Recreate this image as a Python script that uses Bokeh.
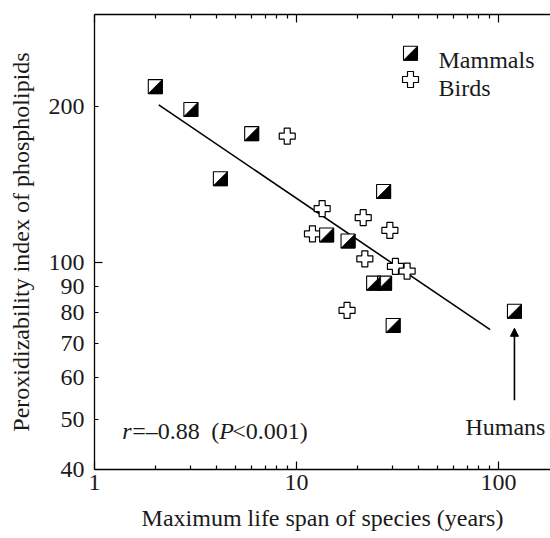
import math
from bokeh.plotting import figure
from bokeh.models import LogAxis, FixedTicker, BasicTickFormatter, Arrow, NormalHead
from bokeh.core.properties import value
from bokeh.embed import file_html
from bokeh.resources import INLINE

# ---- data ----
mammal_span = [2.0, 3.0, 6.0, 4.2, 27.0, 14.1, 18.0, 24.1, 27.3, 30.1, 120.0]
mammal_pi = [218, 197, 177, 145, 137, 113, 110, 91.3, 91.3, 75.7, 80.6]
bird_span = [9.0, 13.4, 21.4, 12.0, 29.0, 21.8, 30.9, 35.3, 17.8]
bird_pi = [175, 127, 122, 113.6, 115.3, 101.7, 98.3, 96.3, 80.9]
fit_span = [2.08, 91.0]
fit_pi = [201, 74.3]
humans_span = 120.0
humans_pi = 80.6

x_ticks = [1, 10, 100]
x_tick_labels = ["1", "10", "100"]
x_minor = [m * 10 ** e for e in (0, 1) for m in range(2, 10)]
y_ticks = [40, 50, 60, 70, 80, 90, 100, 200]
y_tick_labels = ["40", "50", "60", "70", "80", "90", "100", "200"]

stats_parts = ["r", "=\u20130.88", "(", "P", "<0.001)"]
stats_italic = [True, False, False, True, False]
stats_dx = [0, 10, 89, 97, 110]

x0, x1 = 1, 181
y0, y1 = 40, 300

FONT = "Liberation Serif"
FS = "24px"
TXT = "#1a1a1a"

W, H = 550, 538
BL, BR, BT, BB = 94, 0, 14, 69
FW, FH = W - BL - BR, H - BT - BB
ppd_x = FW / (math.log10(x1) - math.log10(x0))
ppd_y = FH / (math.log10(y1) - math.log10(y0))

def fx(px):  # pixels from frame left -> data x
    return 10 ** (math.log10(x0) + px / ppd_x)

def fy(py):  # pixels from frame top -> data y
    return 10 ** (math.log10(y1) - py / ppd_y)

def sx(v, px):
    return v * 10 ** (px / ppd_x)

def sy(v, py):
    return v * 10 ** (py / ppd_y)

p = figure(width=W, height=H, x_axis_type="log", y_axis_type="log",
           x_range=(x0, x1), y_range=(y0, y1),
           output_backend="svg", toolbar_location=None,
           min_border_left=BL, min_border_right=BR,
           min_border_top=BT, min_border_bottom=BB)
p.outline_line_color = None
p.xgrid.visible = False
p.ygrid.visible = False
p.background_fill_color = "white"
p.border_fill_color = "white"

# bottom axis
xa = p.xaxis[0]
xa.ticker = FixedTicker(ticks=x_ticks, minor_ticks=x_minor)
xa.formatter = BasicTickFormatter(use_scientific=False)
xa.major_label_overrides = {float(t): l for t, l in zip(x_ticks, x_tick_labels)}
xa.axis_label = "Maximum life span of species (years)"
xa.major_tick_in = 8
xa.major_tick_out = 0
xa.minor_tick_in = 4
xa.minor_tick_out = 0
xa.major_label_standoff = 5
xa.axis_label_standoff = 12

# left axis (the 100 tick is drawn longer, as in the original)
ya = p.yaxis[0]
ya.ticker = FixedTicker(ticks=y_ticks, minor_ticks=[y_ticks[6]])
ya.formatter = BasicTickFormatter(use_scientific=False)
ya.major_label_overrides = {float(t): l for t, l in zip(y_ticks, y_tick_labels)}
ya.axis_label = "Peroxidizability index of phospholipids"
ya.major_tick_in = 4
ya.major_tick_out = 0
ya.minor_tick_in = 8
ya.minor_tick_out = 0
ya.major_label_standoff = 10
ya.axis_label_standoff = 12

for ax in (xa, ya):
    ax.axis_line_width = 1.3
    ax.axis_line_color = "black"
    ax.major_tick_line_color = "black"
    ax.minor_tick_line_color = "black"
    ax.major_tick_line_width = 1.2
    ax.minor_tick_line_width = 1.2
    ax.major_label_text_font = FONT
    ax.major_label_text_font_size = FS
    ax.major_label_text_color = TXT
    ax.axis_label_text_font = FONT
    ax.axis_label_text_font_size = FS
    ax.axis_label_text_font_style = "normal"
    ax.axis_label_text_color = TXT

# top axis (ticks only)
top = LogAxis(ticker=FixedTicker(ticks=x_ticks, minor_ticks=x_minor),
              formatter=BasicTickFormatter(use_scientific=False),
              major_label_text_font_size="1px", major_label_text_color=None,
              major_label_standoff=0,
              major_tick_in=8, major_tick_out=0, minor_tick_in=4, minor_tick_out=0,
              axis_line_width=1.3, major_tick_line_width=1.2, minor_tick_line_width=1.2)
p.add_layout(top, "above")

# regression line
p.line(fit_span, fit_pi, line_color="black", line_width=1.6)

# birds
p.scatter(bird_span, bird_pi, marker="plus", size=16, fill_color="white",
          line_color="black", line_width=1.2)

# mammals: half-filled squares
HALF = 7
p.scatter(mammal_span, mammal_pi, marker="square", size=2 * HALF, fill_color="white",
          line_color="black", line_width=1.1)
tri_xs = [[sx(x, -HALF), sx(x, HALF), sx(x, HALF)] for x in mammal_span]
tri_ys = [[sy(y, -HALF), sy(y, -HALF), sy(y, HALF)] for y in mammal_pi]
p.patches(tri_xs, tri_ys, fill_color="black", line_color="black", line_width=0.8)

# legend key (placed by frame position)
kx = fx(316)
ky_m = fy(38.7)
ky_b = fy(65)
p.scatter([kx], [ky_m], marker="square", size=2 * HALF, fill_color="white",
          line_color="black", line_width=1.1)
p.patches([[sx(kx, -HALF), sx(kx, HALF), sx(kx, HALF)]],
          [[sy(ky_m, -HALF), sy(ky_m, -HALF), sy(ky_m, HALF)]],
          fill_color="black", line_color="black", line_width=0.8)
p.scatter([kx], [ky_b], marker="plus", size=16, fill_color="white",
          line_color="black", line_width=1.2)
p.text([sx(kx, 28), sx(kx, 28)], [fy(45), fy(73.3)], text=["Mammals", "Birds"],
       text_font=value(FONT), text_font_size=value(FS), text_color=TXT,
       text_baseline="alphabetic", text_align="left")

# humans annotation
p.add_layout(Arrow(x_start=humans_span, y_start=sy(humans_pi, -89),
                   x_end=humans_span, y_end=sy(humans_pi, -17),
                   end=NormalHead(size=8, fill_color="black", line_color="black"),
                   line_color="black", line_width=1.6))
p.text([sx(humans_span, -9)], [sy(humans_pi, -116)], text=["Humans"],
       text_font=value(FONT), text_font_size=value(FS), text_color=TXT,
       text_baseline="alphabetic", text_align="center")

# statistics text
ax_, ay_ = fx(27.7), fy(416.7)
for part, it, dx in zip(stats_parts, stats_italic, stats_dx):
    p.text([ax_], [ay_], text=[part], x_offset=dx,
           text_font=value(FONT), text_font_size=value(FS), text_color=TXT,
           text_font_style="italic" if it else "normal",
           text_baseline="alphabetic", text_align="left")

open("out.html", "w").write(file_html(p, INLINE))
